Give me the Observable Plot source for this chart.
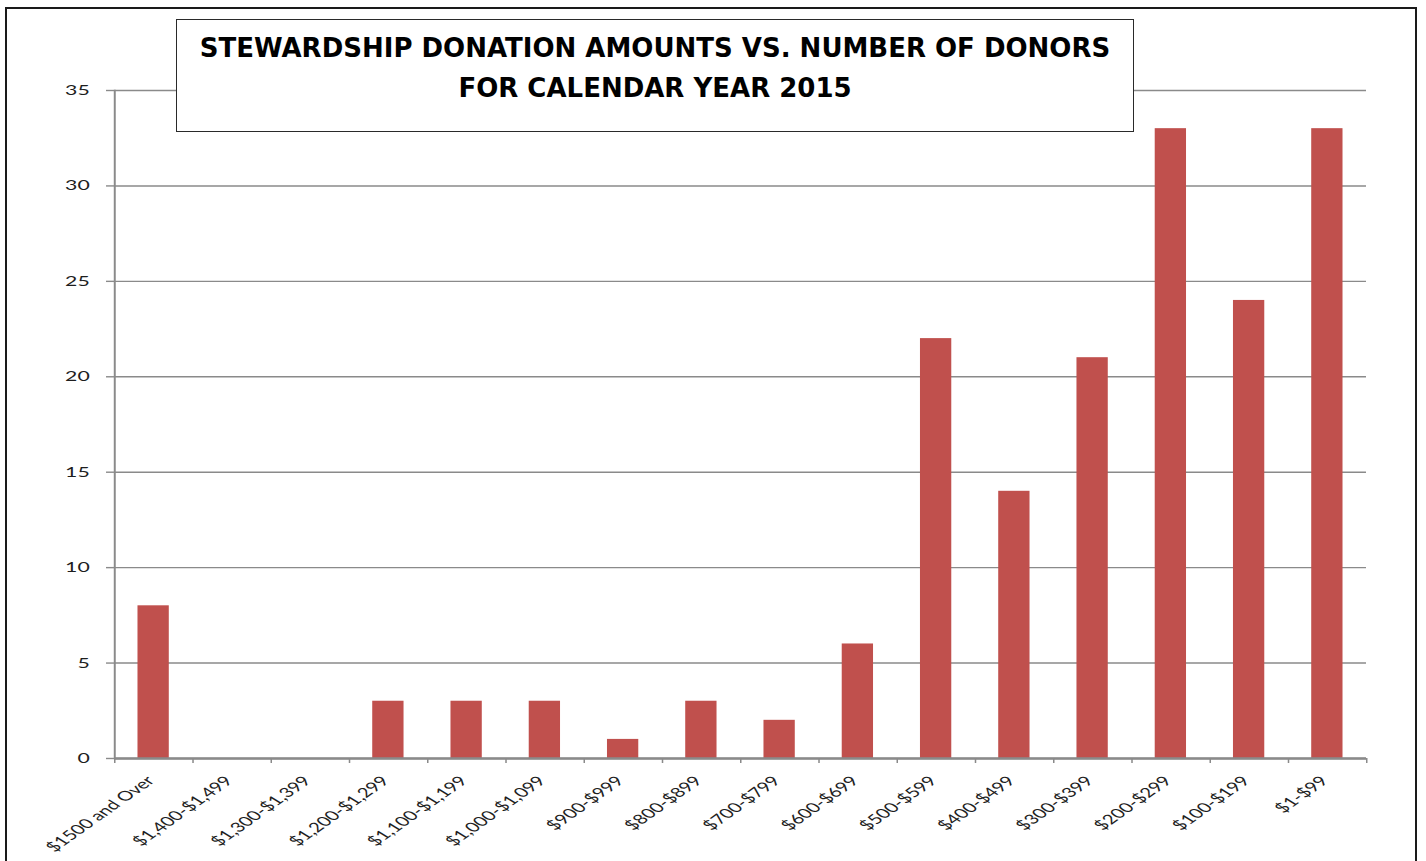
<!DOCTYPE html>
<html>
<head>
<meta charset="utf-8">
<script src="https://cdn.jsdelivr.net/npm/d3@7"></script>
<script src="https://cdn.jsdelivr.net/npm/@observablehq/plot@0.6"></script>
<style>
  html, body { margin: 0; padding: 0; background: #fff; }
  #wrap { position: relative; width: 1426px; height: 861px; overflow: hidden; background: #fff; }
  #chart { position: absolute; left: 0; top: 0; }
  #chart svg { transform-origin: 0 0; }
  #frame { position: absolute; left: 5px; top: 7px; width: 1412px; height: 900px; border: 2px solid #1a1a1a; box-sizing: border-box; pointer-events: none; }
  #title { position: absolute; left: 176px; top: 19px; width: 958px; height: 113px; border: 1.5px solid #2a2a2a; background: #fff; box-sizing: border-box; padding-top: 7.5px;
           font-family: "DejaVu Sans", Verdana, sans-serif; font-weight: bold; font-size: 26px; line-height: 40px; text-align: center; color: #000; }
</style>
</head>
<body>
<div id="wrap">
  <div id="chart"></div>
  <div id="frame"></div>
  <div id="title"><div id="t1"></div><div id="t2"></div></div>
</div>
<script>
const titleLines = ["STEWARDSHIP DONATION AMOUNTS VS. NUMBER OF DONORS", "FOR CALENDAR YEAR 2015"];
const categories = ["$1500 and Over", "$1,400-$1,499", "$1,300-$1,399", "$1,200-$1,299", "$1,100-$1,199", "$1,000-$1,099", "$900-$999", "$800-$899", "$700-$799", "$600-$699", "$500-$599", "$400-$499", "$300-$399", "$200-$299", "$100-$199", "$1-$99"];
const donors = [8, 0, 0, 3, 3, 3, 1, 3, 2, 6, 22, 14, 21, 33, 24, 33];
const yTicks = [0, 5, 10, 15, 20, 25, 30, 35];

document.getElementById("t1").textContent = titleLines[0];
document.getElementById("t2").textContent = titleLines[1];

const data = categories.map((c, i) => ({category: c, donors: donors[i]}));

// The reference chart picture is stretched horizontally; draw it narrower and stretch it the same way.
const S = 1.52;
const W = 1426, H = 861;
const mL = 114 / S, mR = 60 / S, mT = 90, mB = 103;
const innerW = W / S;
const step = (innerW - mL - mR) / categories.length;
const axisGray = "#8a8a8a";
const labelFont = "Lato, 'Open Sans', sans-serif";

const chart = Plot.plot({
  width: innerW, height: H,
  marginLeft: mL, marginRight: mR, marginTop: mT, marginBottom: mB,
  style: {fontFamily: labelFont, fontSize: "14px", color: "#222", background: "#fff", overflow: "visible"},
  x: {domain: categories, paddingInner: 0.6, paddingOuter: 0.3, round: false, label: null},
  y: {domain: [0, 35], label: null},
  marks: [
    Plot.gridY(yTicks, {stroke: axisGray, strokeOpacity: 1, strokeWidth: 1.4}),
    Plot.barY(data, {x: "category", y: "donors", fill: "#C0504D"}),
    Plot.frame({anchor: "left", stroke: axisGray, strokeWidth: 1.3}),
    Plot.ruleY([0], {stroke: axisGray, strokeWidth: 2.5}),
    Plot.axisY(yTicks, {tickSize: 8 / S, tickPadding: 17 / S, stroke: axisGray, strokeWidth: 1.4, fill: "#1e1e1e", fontSize: 14, label: null, tickFormat: d => String(d)}),
    Plot.axisX({tickSize: 5, dx: step / 2, stroke: axisGray, strokeWidth: 1, tickFormat: () => "", label: null}),
    Plot.axisX([categories[0]], {tickSize: 5, dx: -step / 2, stroke: axisGray, strokeWidth: 1, tickFormat: () => "", label: null}),
    Plot.axisX({tickSize: 0, tickPadding: 8, dy: 12, dx: -2, tickRotate: -47, fill: "#1e1e1e", fontSize: 13.5, label: null})
  ]
});
chart.style.transform = `scaleX(${S})`;
document.getElementById("chart").appendChild(chart);
</script>
</body>
</html>
